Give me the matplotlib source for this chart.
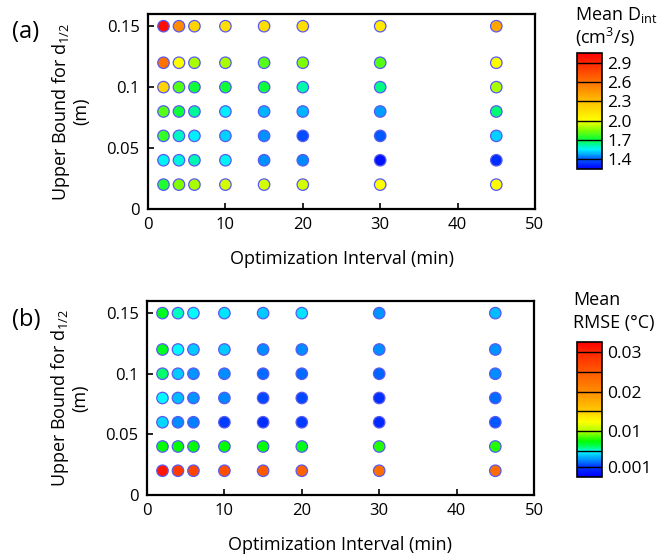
import numpy as np
import matplotlib
matplotlib.use('Agg')
import matplotlib.pyplot as plt
from matplotlib.colors import LinearSegmentedColormap, Normalize

plt.rcParams['font.family'] = ['Open Sans', 'DejaVu Sans']
plt.rcParams['mathtext.fontset'] = 'custom'
plt.rcParams['mathtext.rm'] = 'Open Sans'
plt.rcParams['mathtext.it'] = 'Open Sans'

# grid of settings
intervals = [2, 4, 6, 10, 15, 20, 30, 45]
bounds = [0.15, 0.12, 0.10, 0.08, 0.06, 0.04, 0.02]

# (a) mean D_int, rows follow `bounds`, columns follow `intervals`
dint = [
    [3.00, 2.50, 2.20, 2.15, 2.15, 2.15, 2.10, 2.40],
    [2.60, 2.00, 1.90, 1.90, 1.80, 1.85, 1.80, 2.00],
    [2.20, 1.80, 1.72, 1.72, 1.72, 1.62, 1.65, 1.90],
    [1.80, 1.72, 1.63, 1.55, 1.49, 1.49, 1.47, 1.66],
    [1.76, 1.60, 1.55, 1.52, 1.46, 1.38, 1.40, 1.52],
    [1.56, 1.58, 1.61, 1.56, 1.46, 1.45, 1.28, 1.33],
    [1.74, 1.85, 1.90, 1.95, 1.95, 1.95, 2.00, 2.00],
]

# (b) mean RMSE (degC)
rmse = [
    [0.0070, 0.0055, 0.0050, 0.0045, 0.0040, 0.0045, 0.0030, 0.0038],
    [0.0070, 0.0050, 0.0040, 0.0040, 0.0028, 0.0028, 0.0028, 0.0030],
    [0.0060, 0.0040, 0.0030, 0.0028, 0.0022, 0.0022, 0.0020, 0.0028],
    [0.0050, 0.0038, 0.0030, 0.0027, 0.0015, 0.0015, 0.0008, 0.0022],
    [0.0043, 0.0028, 0.0025, 0.0012, 0.0008, 0.0012, 0.0006, 0.0018],
    [0.0075, 0.0075, 0.0075, 0.0075, 0.0075, 0.0072, 0.0080, 0.0080],
    [0.0310, 0.0280, 0.0270, 0.0260, 0.0250, 0.0240, 0.0230, 0.0230],
]

a_ticks = [1.4, 1.7, 2.0, 2.3, 2.6, 2.9]
a_ticklabels = ['1.4', '1.7', '2.0', '2.3', '2.6', '2.9']
a_lines = a_ticks
b_ticks = [0.001, 0.01, 0.02, 0.03]
b_ticklabels = ['0.001', '0.01', '0.02', '0.03']
b_lines = [0.001, 0.005, 0.01, 0.015, 0.02, 0.025, 0.03]


def make_cmap(anchors, vmin, vmax):
    pts = [((v - vmin) / (vmax - vmin), c) for v, c in anchors]
    return LinearSegmentedColormap.from_list('c', pts)


a_min, a_max = 1.25, 3.05
cmap_a = make_cmap([
    (1.25, (0, 0, 1)),
    (1.40, (0, 0.35, 1)),
    (1.55, (0, 0.95, 1)),
    (1.70, (0, 1, 0.25)),
    (1.85, (0.5, 1, 0)),
    (2.00, (1, 1, 0)),
    (2.30, (1, 0.75, 0)),
    (2.60, (1, 0.45, 0)),
    (2.90, (1, 0.15, 0)),
    (3.05, (1, 0, 0)),
], a_min, a_max)

b_min, b_max = -0.0015, 0.0325
cmap_b = make_cmap([
    (-0.0015, (0, 0, 1)),
    (0.001, (0, 0.2, 1)),
    (0.003, (0, 0.6, 1)),
    (0.005, (0, 1, 1)),
    (0.006, (0, 1, 0.4)),
    (0.0075, (0, 1, 0)),
    (0.010, (0.7, 1, 0)),
    (0.0125, (1, 1, 0)),
    (0.015, (1, 0.8, 0)),
    (0.020, (1, 0.55, 0)),
    (0.025, (1, 0.35, 0)),
    (0.030, (1, 0.15, 0)),
    (0.0325, (1, 0, 0)),
], b_min, b_max)

W, H = 660, 554
fig = plt.figure(figsize=(W / 100, H / 100), dpi=100)


def px_axes(x0, y0, x1, y1):
    return fig.add_axes([x0 / W, 1 - y1 / H, (x1 - x0) / W, (y1 - y0) / H])


def panel(ax, cax, vals, cmap, vmin, vmax, ticks, ticklabels, lines):
    X, Y = np.meshgrid(intervals, bounds)
    sc = ax.scatter(X.ravel(), Y.ravel(), c=np.array(vals).ravel(), cmap=cmap,
                    norm=Normalize(vmin, vmax), s=68, edgecolors='#5a5af0',
                    linewidths=0.9, zorder=3)
    ax.set_xlim(0, 50)
    ax.set_ylim(0, 0.16)
    ax.set_xticks([0, 10, 20, 30, 40, 50])
    ax.set_yticks([0, 0.05, 0.1, 0.15])
    ax.set_yticklabels(['0', '0.05', '0.1', '0.15'])
    ax.tick_params(direction='in', length=4, width=1.2, labelsize=12, pad=6)
    for s in ax.spines.values():
        s.set_linewidth(1.6)
    ax.set_xlabel('Optimization Interval (min)', fontsize=13, labelpad=12)
    ax.set_ylabel('Upper Bound for d$_{1/2}$\n(m)', fontsize=13, labelpad=12,
                  linespacing=1.0)

    cb = fig.colorbar(sc, cax=cax)
    cb.set_ticks(ticks)
    cb.set_ticklabels(ticklabels)
    cb.ax.tick_params(length=0, labelsize=12.5, pad=4)
    cb.outline.set_linewidth(1.2)
    for v in lines:
        cb.ax.axhline(v, color='black', lw=1.0)


ax_a = px_axes(148, 14, 535, 209)
cax_a = px_axes(577, 53, 602, 169)
panel(ax_a, cax_a, dint, cmap_a, a_min, a_max, a_ticks, a_ticklabels, a_lines)

ax_b = px_axes(147, 301, 534, 495)
cax_b = px_axes(577, 342, 602, 477)
panel(ax_b, cax_b, rmse, cmap_b, b_min, b_max, b_ticks, b_ticklabels, b_lines)

fig.text(575 / W, 1 - 15 / H, 'Mean D$_{\\mathrm{int}}$', fontsize=13, va='center')
fig.text(575 / W, 1 - 37 / H, '(cm$^3$/s)', fontsize=13, va='center')
fig.text(573 / W, 1 - 300 / H, 'Mean', fontsize=13, va='center')
fig.text(573 / W, 1 - 323 / H, 'RMSE (\u00b0C)', fontsize=13, va='center')

fig.text(12 / W, 1 - 32 / H, '(a)', fontsize=17, va='center')
fig.text(12 / W, 1 - 320 / H, '(b)', fontsize=17, va='center')

fig.savefig('out.png', dpi=100)
